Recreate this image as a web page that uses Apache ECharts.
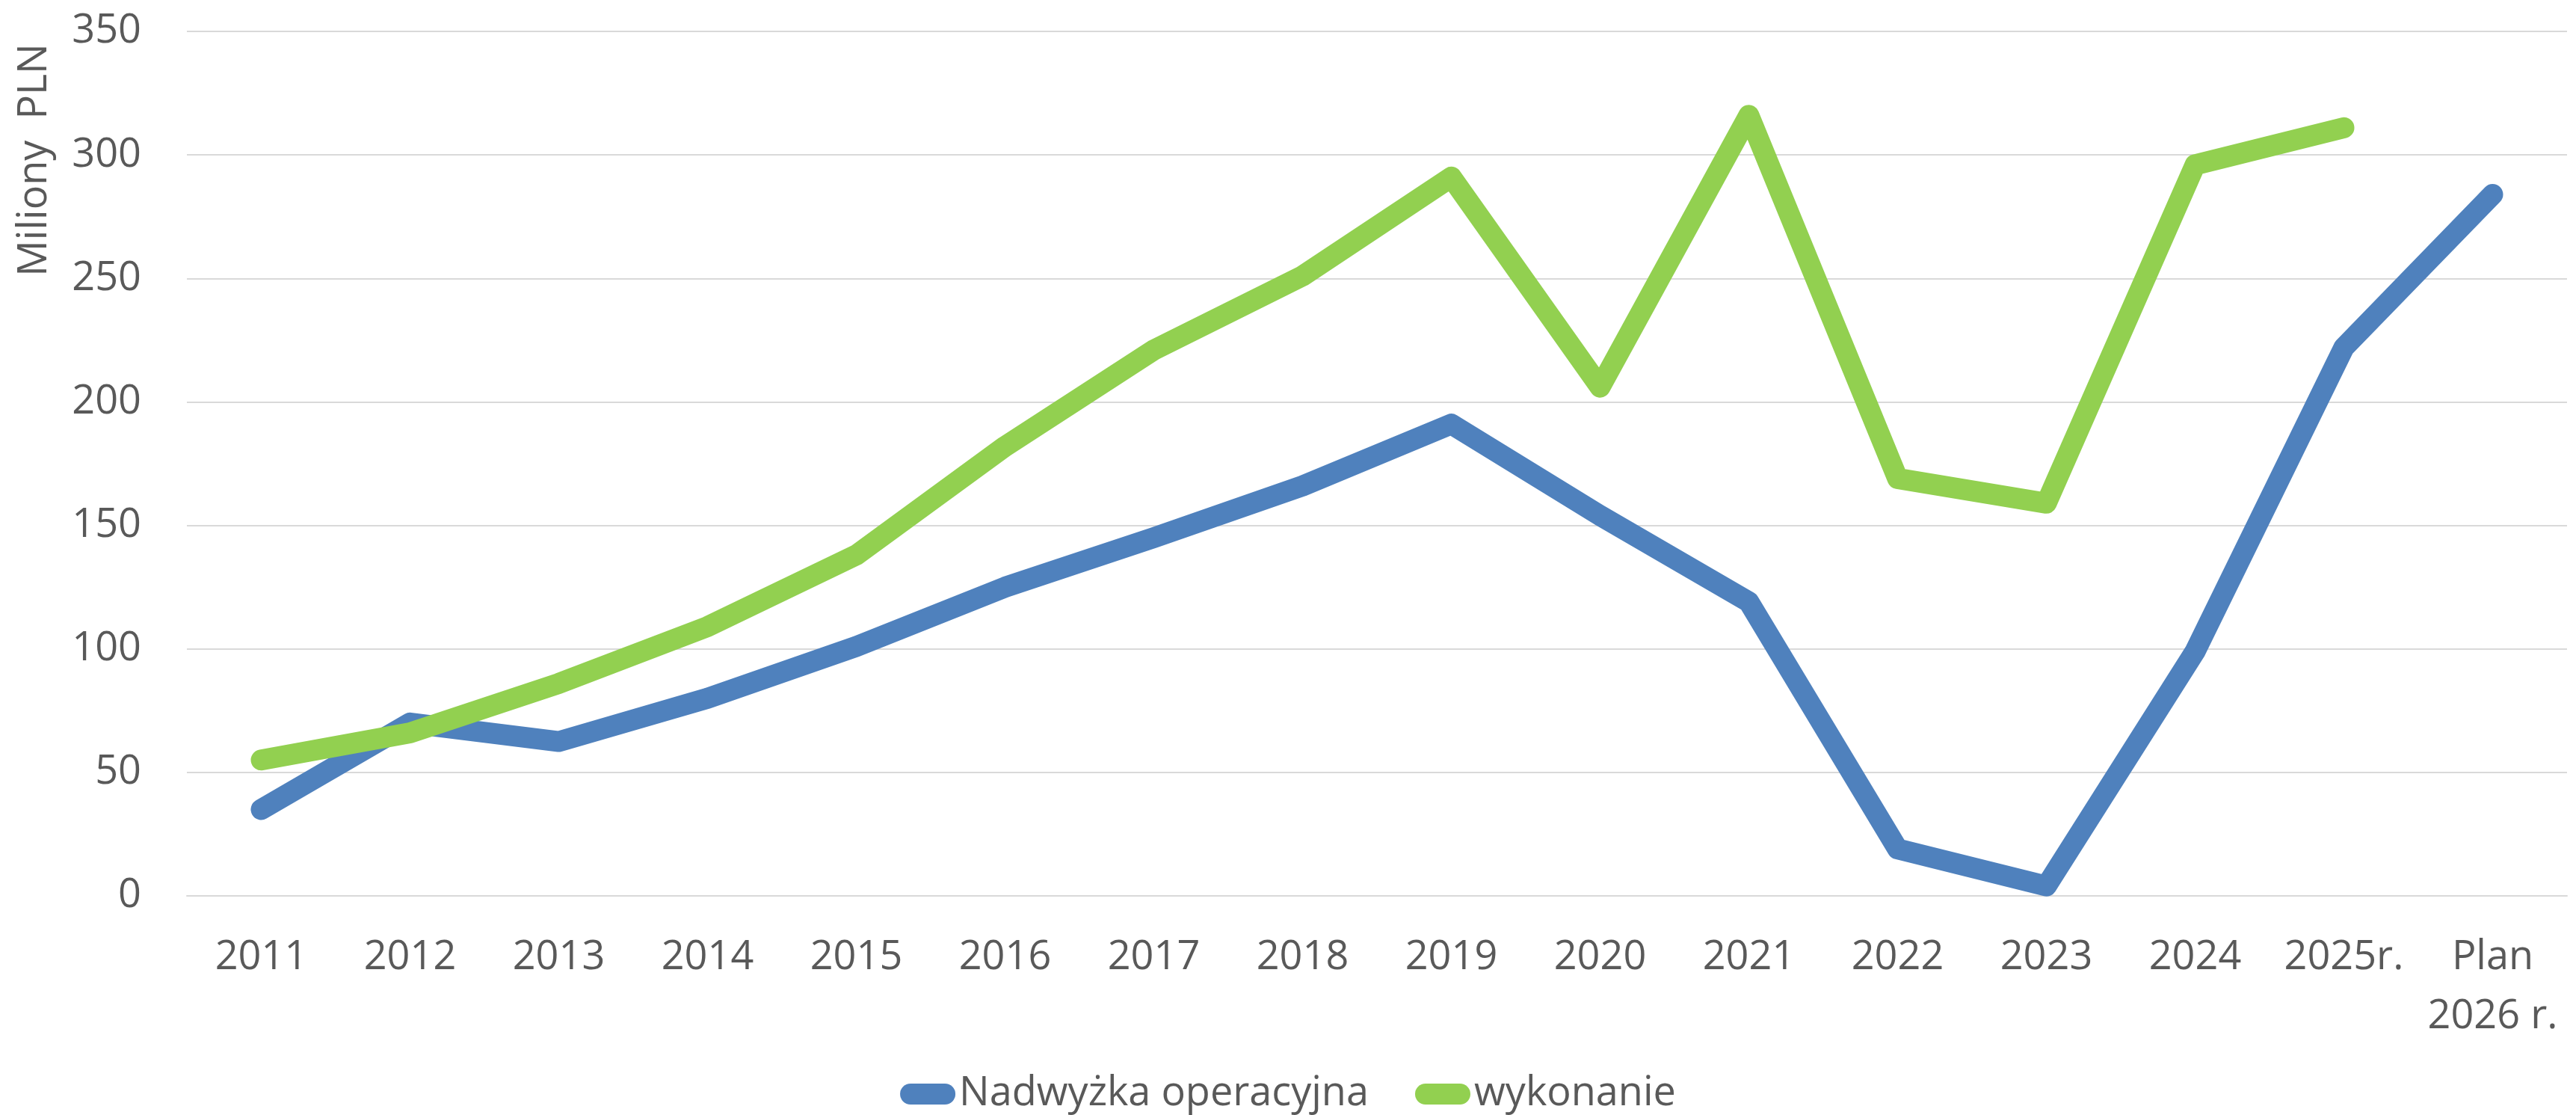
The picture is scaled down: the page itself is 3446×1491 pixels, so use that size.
<!DOCTYPE html>
<html>
<head>
<meta charset="utf-8">
<script src="https://cdn.jsdelivr.net/npm/echarts@6/dist/echarts.min.js"></script>
<style>
  html, body { margin: 0; padding: 0; background: #fff; }
  #main { width: 3446px; height: 1491px; }
</style>
</head>
<body>
<div id="main"></div>
<script>
var years = ['2011','2012','2013','2014','2015','2016','2017','2018','2019','2020','2021','2022','2023','2024','2025r.','Plan\n2026 r.'];
var nadwyzka = [35, 70, 62.5, 80, 101, 125, 145, 166, 191, 154, 119, 19, 4, 99, 222, 284];
var wykonanie = [55, 66, 86, 109, 138, 182, 221, 251, 291, 206, 316, 169, 159, 296, 311, null];
var yTicks = [0, 50, 100, 150, 200, 250, 300, 350];

var textColor = '#595959';
var font = 'Open Sans';

var myChart = echarts.init(document.getElementById('main'));

var option = {
  animation: false,
  backgroundColor: '#fff',
  grid: { left: 250, right: 12, top: 42, bottom: 293 },
  legend: {
    left: 'center',
    top: 1428,
    itemWidth: 74,
    itemHeight: 28,
    itemGap: 62,
    icon: 'path://M14,0 L60,0 A14,14 0 0 1 60,28 L14,28 A14,14 0 0 1 14,0 Z',
    textStyle: { fontFamily: font, fontSize: 54, color: textColor, lineHeight: 60 },
    data: ['Nadwyżka operacyjna', 'wykonanie']
  },
  xAxis: {
    type: 'category',
    data: years,
    boundaryGap: true,
    axisLine: { show: true, lineStyle: { color: '#d9d9d9', width: 2 } },
    axisTick: { show: false },
    axisLabel: { interval: 0, margin: 43, fontFamily: font, fontSize: 54, color: textColor, lineHeight: 79 }
  },
  yAxis: {
    type: 'value',
    min: yTicks[0],
    max: yTicks[yTicks.length - 1],
    interval: 50,
    axisLine: { show: false },
    axisTick: { show: false },
    splitLine: { lineStyle: { color: '#d9d9d9', width: 2 } },
    axisLabel: { margin: 61, fontFamily: font, fontSize: 54, color: textColor }
  },
  graphic: [{
    type: 'text',
    x: 47,
    y: 214,
    rotation: Math.PI / 2,
    style: {
      text: 'Miliony  PLN',
      fontFamily: font,
      fontSize: 54,
      fill: textColor,
      textAlign: 'center',
      textVerticalAlign: 'middle'
    }
  }],
  series: [
    {
      name: 'Nadwyżka operacyjna',
      type: 'line',
      data: nadwyzka,
      symbol: 'none',
      color: '#4f81bd',
      lineStyle: { width: 28, color: '#4f81bd', cap: 'round', join: 'round' }
    },
    {
      name: 'wykonanie',
      type: 'line',
      data: wykonanie,
      symbol: 'none',
      color: '#92d050',
      lineStyle: { width: 28, color: '#92d050', cap: 'round', join: 'round' }
    }
  ]
};

myChart.setOption(option);
window.addEventListener('resize', function () {
  myChart.resize();
});
</script>
</body>
</html>
